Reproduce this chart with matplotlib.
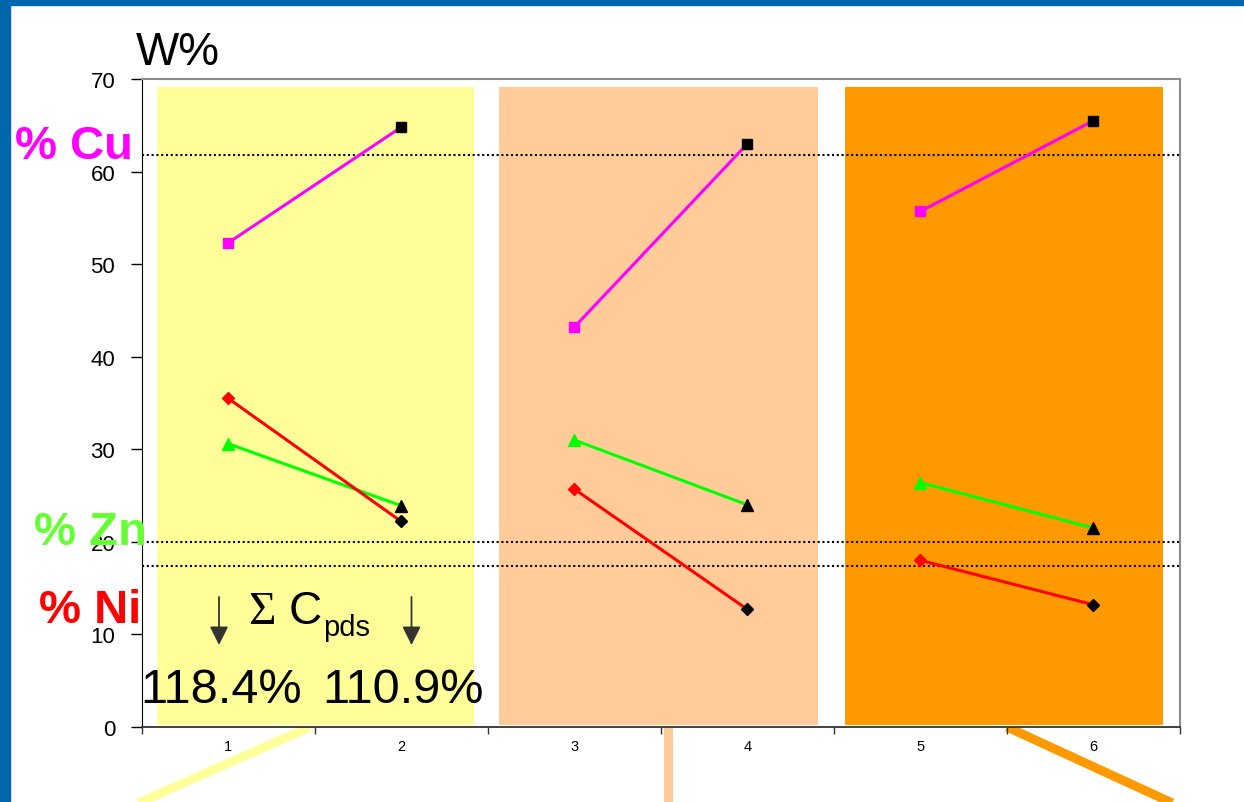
import matplotlib
matplotlib.use("Agg")
import matplotlib.pyplot as plt
from matplotlib.patches import Rectangle
from matplotlib.lines import Line2D

# ---- data -------------------------------------------------------------
samples = ["1", "2", "3", "4", "5", "6"]
cu = [52.3, 64.8, 43.2, 63.0, 55.7, 65.5]
zn = [30.6, 23.9, 31.0, 24.0, 26.4, 21.5]
ni = [35.5, 22.2, 25.7, 12.7, 18.0, 13.2]
ref_cu, ref_zn, ref_ni = 61.8, 20.0, 17.4
y_ticks = [0, 10, 20, 30, 40, 50, 60, 70]

plt.rcParams["font.family"] = ["Liberation Sans", "DejaVu Sans"]

W, H = 1244, 803
fig = plt.figure(figsize=(W / 100, H / 100), dpi=100)
fig.patch.set_facecolor("white")


def fx(px):
    return px / W


def fy(py):
    return 1 - py / H


# slide frame
frame = "#0067AC"
fig.add_artist(Rectangle((0, 0), fx(10), 1, transform=fig.transFigure,
                         color=frame, zorder=5))
fig.add_artist(Rectangle((0, fy(6)), 1, 6 / H, transform=fig.transFigure,
                         color=frame, zorder=5))

ax = fig.add_axes([fx(141.7), fy(728), (1180 - 141.7) / W, (728 - 80) / H])
ax.set_xlim(0.5, 6.5)
ax.set_ylim(0, 70)

# shaded sample groups
bands = [(0.587, 2.421, "#FFFF99"), (2.567, 4.408, "#FFCC99"),
         (4.565, 6.399, "#FF9900")]
for x0, x1, c in bands:
    ax.add_patch(Rectangle((x0, 0.25), x1 - x0, 68.85, color=c, lw=0,
                           zorder=0.5))

# reference compositions
for yv in (ref_cu, ref_zn, ref_ni):
    ax.axhline(yv, color="black", ls=(0, (1, 1.3)), lw=1.5, zorder=1)

# paired measurements
xs = list(range(1, len(samples) + 1))
series = [(cu, "#FF00FF", "s", 7.5), (zn, "#00FF00", "^", 8.5),
          (ni, "#FF0000", "D", 6)]
for vals, col, mk, ms in series:
    for i in range(0, len(xs), 2):
        ax.plot(xs[i:i + 2], vals[i:i + 2], color=col, lw=2.2, zorder=3)
        ax.plot(xs[i], vals[i], marker=mk, ms=ms, color=col, ls="none",
                zorder=4)
        ax.plot(xs[i + 1], vals[i + 1], marker=mk, ms=ms, color="black",
                ls="none", zorder=4)

# axes styling
ax.set_yticks(y_ticks)
ax.tick_params(axis="y", length=8, width=1, pad=11, labelsize=16,
               direction="out", colors="black")
ax.set_xticks([0.5 + k for k in range(len(samples) + 1)])
ax.set_xticklabels([])
ax.tick_params(axis="x", which="major", length=5, width=1, direction="out",
               color="#333333")
ax.set_xticks(xs, minor=True)
ax.set_xticklabels(samples, minor=True)
ax.tick_params(axis="x", which="minor", length=0, pad=9, labelsize=10.5)
ax.spines["left"].set_color("black")
ax.spines["bottom"].set_color("#333333")
ax.spines["bottom"].set_linewidth(1.3)
for s in ("top", "right"):
    ax.spines[s].set_color("#8C8C8C")
    ax.spines[s].set_linewidth(1.5)

# connector strokes below the axis
for (x0, y0), (x1, y1), c in [((310, 728), (116, 814), "#FFFF99"),
                              ((667.5, 728), (667.5, 812), "#FFCC99"),
                              ((1007, 728), (1194, 814), "#FF9900")]:
    fig.add_artist(Line2D([fx(x0), fx(x1)], [fy(y0), fy(y1)],
                          transform=fig.transFigure, color=c, lw=6.5,
                          solid_capstyle="butt", zorder=-1))

# titles and element labels
fig.text(fx(136), fy(65), "W%", fontsize=33, ha="left", va="baseline")
fig.text(fx(15), fy(159), "% Cu", fontsize=34, fontweight="bold",
         color="#FF00FF", ha="left", va="baseline", zorder=6)
fig.text(fx(34), fy(545), "% Zn", fontsize=34, fontweight="bold",
         color="#66FF33", ha="left", va="baseline", zorder=6)
fig.text(fx(39), fy(623), "% Ni", fontsize=34, fontweight="bold",
         color="#FF0000", ha="left", va="baseline", zorder=6)

# sum of concentrations for the first pair
fig.text(fx(248), fy(624), "Σ", family=["Liberation Serif", "DejaVu Serif"],
         fontsize=34, ha="left", va="baseline", zorder=6)
fig.text(fx(289), fy(624), "C", fontsize=33, ha="left", va="baseline",
         zorder=6)
fig.text(fx(323), fy(636), "pds", fontsize=21, ha="left", va="baseline",
         zorder=6)
for xa in (219, 411.5):
    ax.annotate("", xy=(xa, H - 646), xytext=(xa, H - 598),
                xycoords="figure pixels", textcoords="figure pixels",
                arrowprops=dict(arrowstyle="-|>,head_length=0.4,head_width=0.2",
                                color="#333333", lw=1.3, mutation_scale=28,
                                shrinkA=0, shrinkB=0), zorder=6)

totals = [cu[i] + zn[i] + ni[i] for i in (0, 1)]
for xc, t in zip((221, 403), totals):
    fig.text(fx(xc), fy(702.7), f"{t:.1f}%", fontsize=35, ha="center",
             va="baseline", zorder=6)

fig.savefig("out.png", dpi=100)
